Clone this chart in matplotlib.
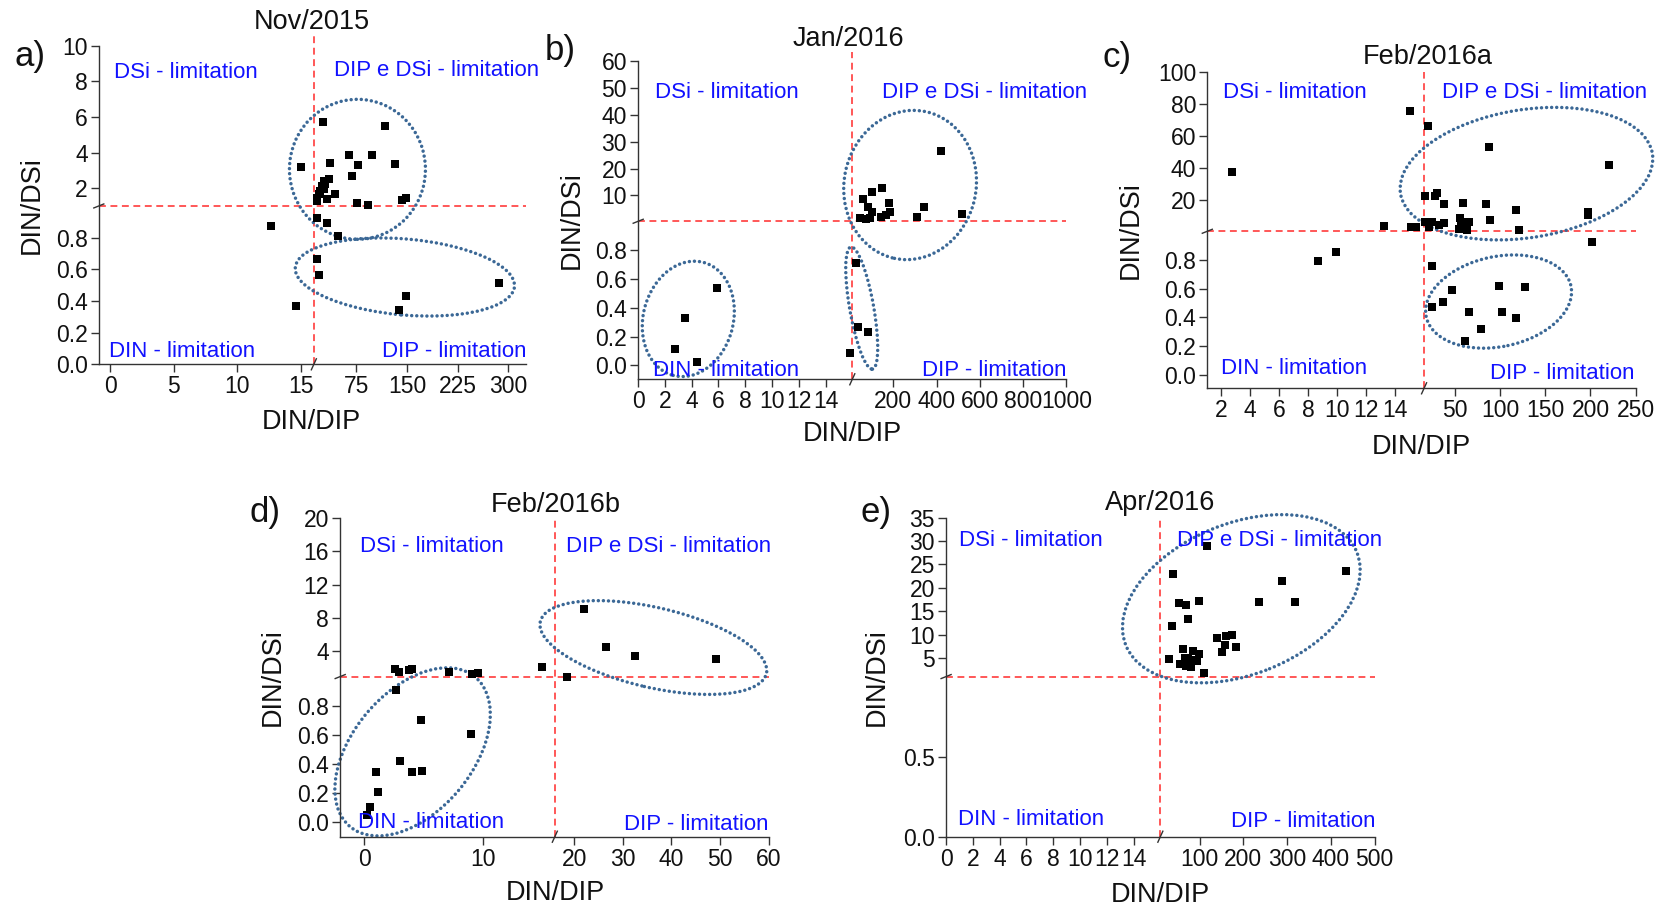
"""Nutrient ratio scatter panels (DIN/DIP vs DIN/DSi) with broken axes."""

import matplotlib

matplotlib.use("Agg")

import matplotlib.pyplot as plt
import numpy as np
from matplotlib.lines import Line2D
from matplotlib.patches import Ellipse
from matplotlib.transforms import ScaledTranslation

plt.rcParams["font.family"] = ["Liberation Sans", "DejaVu Sans"]

# --- Data: DIN/DIP (x) and DIN/DSi (y) per campaign ---
NOV15_X = [25.5, 117.6, 14.96, 36.2, 63.7, 98.5, 77.9, 133, 68.1, 33.9, 27.4, 24, 26.5,
           21.7, 28.9, 19.2, 42.7, 31.4, 16.5, 16.8, 76.5, 92.6, 143, 149,
           17, 32.2, 48, 12.66, 17.4, 19.3, 14.6, 138.3, 148.4, 286]
NOV15_Y = [5.69, 5.50, 3.16, 3.39, 3.86, 3.86, 3.30, 3.36, 2.69, 2.51, 2.41, 2.13, 1.94,
           1.85, 2.23, 1.66, 1.66, 1.38, 1.28, 1.47, 1.15, 1.04, 1.32, 1.47,
           0.922, 0.895, 0.812, 0.874, 0.667, 0.562, 0.370, 0.343, 0.43, 0.512]

JAN16_X = [418, 148, 99, 57.5, 80.6, 179, 184, 341, 307, 518, 45, 91, 145, 99, 164, 74,
           2.77, 3.47, 4.38, 5.89, 26.5, 38, 83, 15.8]
JAN16_Y = [26.6, 12.6, 11.1, 8.6, 5.5, 7.0, 3.9, 5.7, 2.0, 3.0, 1.5, 1.5, 2.0, 3.9, 2.6, 1.2,
           0.111, 0.326, 0.02, 0.536, 0.708, 0.268, 0.229, 0.083]

FEB16A_X = [2.73, 15.05, 20.4, 13.25, 15.1, 15.45, 17, 27.7, 29.9, 17, 25.2, 21.5, 38, 59.4,
            84.7, 118, 197.8, 197.8, 89.4, 55.6, 65.5, 38, 54.5, 63.8, 56.4, 120.6, 32.5,
            60, 87.6, 220.6,
            201.4, 25.2, 47.2, 37.3, 25.2, 65.5, 79.5, 60.8, 98.3, 127.6, 102.3, 117.3,
            8.71, 9.94]
FEB16A_Y = [37.6, 75.7, 66.3, 3.8, 3.4, 3.0, 22.5, 22.5, 24.5, 6.5, 6.5, 3.4, 17.3, 17.9,
            17.3, 13.8, 12.7, 10.6, 7.5, 8.6, 6.5, 5.5, 1.7, 1.3, 4.4, 1.3, 4.4,
            6.5, 52.9, 42.0,
            0.923, 0.758, 0.591, 0.51, 0.471, 0.44, 0.32, 0.237, 0.619, 0.614, 0.44, 0.399,
            0.795, 0.853]

FEB16B_X = [22.1, 26.5, 32.6, 49.2, 14.9, 18.6, 2.54, 2.89, 3.72, 3.97, 7.14, 9.07, 9.56,
            2.64, 4.75, 8.94, 2.98, 4.03, 4.84, 0.99, 1.15, 0.46, 0.24]
FEB16B_Y = [9.1, 4.5, 3.4, 3.1, 2.2, 1.0, 1.9, 1.6, 1.8, 1.9, 1.5, 1.33, 1.45,
            0.908, 0.701, 0.605, 0.419, 0.345, 0.352, 0.345, 0.203, 0.099, 0.046]

APR16_X = [116, 40, 287.6, 52.9, 68.9, 99.3, 235.8, 318, 72.8, 36.2, 139, 160.3, 173.4, 158,
           183.2, 151.9, 62.7, 84.2, 99.3, 30.7, 66.6, 89.5, 55.7, 68.9, 80.3, 94.7, 110,
           74, 434.6]
APR16_Y = [28.9, 23, 21.5, 16.8, 16.3, 17.2, 17.0, 17.0, 13.3, 11.8, 9.3, 9.7, 9.9, 7.8,
           7.4, 6.35, 6.85, 6.5, 5.8, 4.8, 5.07, 4.57, 3.65, 3.3, 3.14, 4.4, 1.7,
           4.7, 23.5]

# --- Tick values (lower segment, upper segment) ---
NOV15_XTICKS = ([0, 5, 10, 15], [75, 150, 225, 300])
NOV15_YTICKS = ([0.0, 0.2, 0.4, 0.6, 0.8], [2, 4, 6, 8, 10])
JAN16_XTICKS = ([0, 2, 4, 6, 8, 10, 12, 14], [200, 400, 600, 800, 1000])
JAN16_YTICKS = ([0.0, 0.2, 0.4, 0.6, 0.8], [10, 20, 30, 40, 50, 60])
FEB16A_XTICKS = ([2, 4, 6, 8, 10, 12, 14], [50, 100, 150, 200, 250])
FEB16A_YTICKS = ([0.0, 0.2, 0.4, 0.6, 0.8], [20, 40, 60, 80, 100])
FEB16B_XTICKS = ([0, 10], [20, 30, 40, 50, 60])
FEB16B_YTICKS = ([0.0, 0.2, 0.4, 0.6, 0.8], [4, 8, 12, 16, 20])
APR16_XTICKS = ([0, 2, 4, 6, 8, 10, 12, 14], [100, 200, 300, 400, 500])
APR16_YTICKS = ([0.0, 0.5], [5, 10, 15, 20, 25, 30, 35])

# Redfield thresholds
DIN_DIP_LIMIT = 16
DIN_DSI_LIMIT = 1

# --- Style ---
AXIS_COLOR = "#333333"
RED = "#ff2a2a"
ELLIPSE_COLOR = "#3b6896"
LABEL_BLUE = "#1212ff"
TEXT_COLOR = "#111111"
FIG_W, FIG_H = 1662, 909

# Layout per panel: axes box in pixels (left, top, right, bottom), broken-axis
# parameters (lo, break, upper start, hi, break fraction), annotation placement.
PANELS = [
    dict(tag="a)", title="Nov/2015", x=NOV15_X, y=NOV15_Y,
         xticks=NOV15_XTICKS, yticks=NOV15_YTICKS,
         box=(98.8, 45.7, 526.3, 364.3),
         xscale=(-0.9, 16, 12, 327, 0.503), yscale=(0, 1, 1, 10, 0.497),
         tag_pos=(-0.197, 0.965), title_pos=(0.498, 1.075),
         q_pos=[(0.035, 0.917), (0.550, 0.921), (0.025, 0.039), (1.0, 0.039)],
         xlabel_pos=(0.498, -0.181), ylabel_pos=(-0.158, 0.5), vtop=1.03,
         ellipses=[(0.605, 0.612, 136, 140, 0), (0.716, 0.274, 220, 76, -5)]),
    dict(tag="b)", title="Jan/2016", x=JAN16_X, y=JAN16_Y,
         xticks=JAN16_XTICKS, yticks=JAN16_YTICKS,
         box=(638.2, 61.3, 1066.4, 379.3),
         xscale=(0, 16, 10, 1000, 0.5), yscale=(-0.097, 1, 0.36, 60, 0.497),
         tag_pos=(-0.218, 1.035), title_pos=(0.491, 1.070),
         q_pos=[(0.039, 0.903), (0.569, 0.903), (0.035, 0.029), (1.0, 0.029)],
         xlabel_pos=(0.499, -0.172), ylabel_pos=(-0.156, 0.5), vtop=1.03,
         ellipses=[(0.635, 0.611, 132, 150, -12), (0.117, 0.190, 90, 117, -15),
                   (0.522, 0.224, 24, 124, 10)]),
    dict(tag="c)", title="Feb/2016a", x=FEB16A_X, y=FEB16A_Y,
         xticks=FEB16A_XTICKS, yticks=FEB16A_YTICKS,
         box=(1207.3, 71.7, 1635.7, 388.3),
         xscale=(1.05, 16, 16, 250, 0.506), yscale=(-0.093, 1, 0.46, 100, 0.496),
         tag_pos=(-0.244, 1.046), title_pos=(0.515, 1.046),
         q_pos=[(0.036, 0.933), (0.548, 0.933), (0.032, 0.061), (0.998, 0.048)],
         xlabel_pos=(0.5, -0.185), ylabel_pos=(-0.179, 0.5), vtop=1.0,
         ellipses=[(0.745, 0.678, 255, 128, 9), (0.680, 0.274, 148, 90, 12)]),
    dict(tag="d)", title="Feb/2016b", x=FEB16B_X, y=FEB16B_Y,
         xticks=FEB16B_XTICKS, yticks=FEB16B_YTICKS,
         box=(340.2, 517.7, 768.6, 836.7),
         xscale=(-2.02, 16, 16, 60, 0.501), yscale=(-0.103, 1, 1, 20, 0.502),
         tag_pos=(-0.212, 1.015), title_pos=(0.503, 1.040),
         q_pos=[(0.046, 0.911), (0.527, 0.911), (0.041, 0.043), (1.0, 0.037)],
         xlabel_pos=(0.501, -0.176), ylabel_pos=(-0.158, 0.5), vtop=1.0,
         ellipses=[(0.731, 0.593, 232, 80, -13), (0.169, 0.266, 195, 120, 50)]),
    dict(tag="e)", title="Apr/2016", x=APR16_X, y=APR16_Y,
         xticks=APR16_XTICKS, yticks=APR16_YTICKS,
         box=(946.1, 517.7, 1374.6, 836.7),
         xscale=(0, 16, 10, 500, 0.5), yscale=(0, 1, 1, 35, 0.502),
         tag_pos=(-0.200, 1.015), title_pos=(0.5, 1.046),
         q_pos=[(0.031, 0.930), (0.539, 0.930), (0.027, 0.055), (1.003, 0.049)],
         xlabel_pos=(0.5, -0.182), ylabel_pos=(-0.161, 0.5), vtop=1.0,
         ellipses=[(0.689, 0.746, 249, 151, 22)]),
]

QUADRANTS = ["DSi - limitation", "DIP e DSi - limitation", "DIN - limitation", "DIP - limitation"]


def broken_scale(lo, b1, b2, hi, f):
    """Piecewise-linear forward/inverse pair: [lo, b1] -> [0, f], [b2, hi] -> [f, 1]."""

    def forward(v):
        v = np.asarray(v, dtype=float)
        lower = (v - lo) / (b1 - lo) * f
        upper = f + (v - b2) / (hi - b2) * (1 - f)
        return np.where(v <= b1, lower, upper)

    def inverse(p):
        p = np.asarray(p, dtype=float)
        lower = lo + p / f * (b1 - lo)
        upper = b2 + (p - f) / (1 - f) * (hi - b2)
        return np.where(p <= f, lower, upper)

    return forward, inverse


def break_mark(fig, ax, x, y, dx, dy):
    trans = fig.dpi_scale_trans + ScaledTranslation(x, y, ax.transAxes)
    fig.add_artist(Line2D([-dx, dx], [-dy, dy], transform=trans,
                          color=AXIS_COLOR, lw=1.0, zorder=5))


def draw_panel(fig, p):
    left, top, right, bottom = p["box"]
    ax = fig.add_axes([left / FIG_W, 1 - bottom / FIG_H,
                       (right - left) / FIG_W, (bottom - top) / FIG_H])

    ax.set_xscale("function", functions=broken_scale(*p["xscale"]))
    ax.set_yscale("function", functions=broken_scale(*p["yscale"]))
    ax.set_xlim(p["xscale"][0], p["xscale"][3])
    ax.set_ylim(p["yscale"][0], p["yscale"][3])

    ax.scatter(p["x"], p["y"], marker="s", s=34, color="black", linewidths=0, zorder=3)

    dash = (0, (4.5, 3))
    ax.axvline(DIN_DIP_LIMIT, ymax=p["vtop"], color=RED, lw=1.1, ls=dash,
               clip_on=False, zorder=1)
    ax.axhline(DIN_DSI_LIMIT, color=RED, lw=1.1, ls=dash, zorder=1)

    xlo, xhi = p["xticks"]
    ylo, yhi = p["yticks"]
    ax.set_xticks(xlo + xhi)
    ax.set_xticklabels([f"{v:g}" for v in xlo + xhi])
    ax.set_yticks(ylo + yhi)
    ax.set_yticklabels([f"{v:.1f}" for v in ylo] + [f"{v:g}" for v in yhi])
    ax.minorticks_off()
    ax.tick_params(axis="both", direction="out", length=5.5, width=1.0,
                   color=AXIS_COLOR, labelsize=16.5, pad=2.5, labelcolor=TEXT_COLOR)

    for side in ("top", "right"):
        ax.spines[side].set_visible(False)
    for side in ("left", "bottom"):
        ax.spines[side].set_color(AXIS_COLOR)
        ax.spines[side].set_linewidth(1.0)

    # broken-axis slashes
    break_mark(fig, ax, p["xscale"][4], 0, 0.025, 0.055)
    break_mark(fig, ax, 0, p["yscale"][4], 0.05, 0.02)

    for cx, cy, w, h, ang in p["ellipses"]:
        trans = fig.dpi_scale_trans + ScaledTranslation(cx, cy, ax.transAxes)
        ax.add_patch(Ellipse((0, 0), w / 100, h / 100, angle=ang, transform=trans,
                             fill=False, edgecolor=ELLIPSE_COLOR, lw=2.5,
                             linestyle=(0, (0.01, 1.45)), capstyle="round",
                             clip_on=False, zorder=2))

    for text, (qx, qy) in zip(QUADRANTS, p["q_pos"]):
        ha = "right" if text.startswith("DIP -") else "left"
        ax.text(qx, qy, text, transform=ax.transAxes, ha=ha, va="center",
                fontsize=16, color=LABEL_BLUE, zorder=4)

    ax.text(*p["title_pos"], p["title"], transform=ax.transAxes, ha="center",
            va="center", fontsize=19.5, color=TEXT_COLOR)
    ax.text(*p["tag_pos"], p["tag"], transform=ax.transAxes, ha="left",
            va="center", fontsize=25, color=TEXT_COLOR)
    ax.text(*p["xlabel_pos"], "DIN/DIP", transform=ax.transAxes, ha="center",
            va="center", fontsize=19.5, color=TEXT_COLOR)
    ax.text(*p["ylabel_pos"], "DIN/DSi", transform=ax.transAxes, ha="center",
            va="center", rotation=90, fontsize=19.5, color=TEXT_COLOR)
    return ax


fig = plt.figure(figsize=(FIG_W / 100, FIG_H / 100), dpi=100)
fig.patch.set_facecolor("white")
for panel in PANELS:
    draw_panel(fig, panel)

fig.savefig("out.png", dpi=100)
plt.close(fig)
